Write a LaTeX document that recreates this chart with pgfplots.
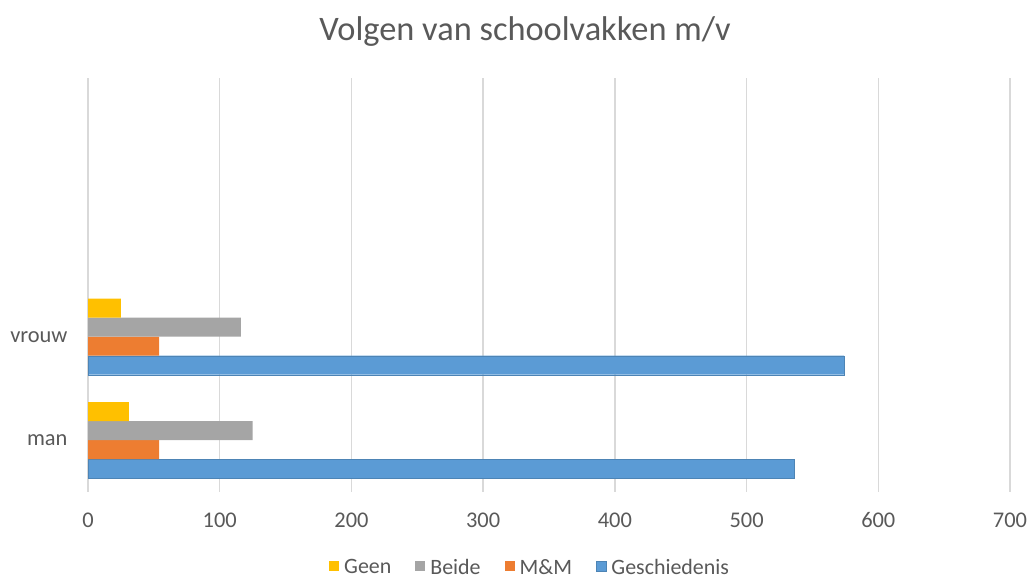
\documentclass[border=0pt]{standalone}
\usepackage{pgfplots}
\pgfplotsset{compat=1.18}
\usepackage{fontspec}
\setmainfont{Carlito}
\definecolor{cGeen}{HTML}{FFC000}
\definecolor{cBeide}{HTML}{A5A5A5}
\definecolor{cMM}{HTML}{ED7D31}
\definecolor{cGes}{HTML}{5B9BD5}
\definecolor{txt}{HTML}{595959}
\definecolor{gridc}{HTML}{D9D9D9}
\begin{document}
\begin{tikzpicture}[x=1bp,y=1bp]
\useasboundingbox (0,0) rectangle (1030,579);
\node[text=txt,font=\fontsize{34.5}{38}\selectfont,anchor=center] at (525,547) {Volgen van schoolvakken m/v};
\begin{axis}[
  at={(88bp,87bp)}, anchor=south west,
  scale only axis, width=922bp, height=414bp,
  xbar, bar width=19bp,
  xmin=0, xmax=700, ymin=-0.5, ymax=3.5,
  xtick={0,100,...,700},
  ytick={0,1}, yticklabels={man,vrouw},
  axis line style={draw=none},
  major tick length=0pt,
  xmajorgrids, grid style={gridc, line width=1.3bp},
  tick label style={text=txt, font=\fontsize{22.5}{26}\selectfont},
  /pgf/number format/assume math mode=true,
  xticklabel style={yshift=-17bp},
  yticklabel style={xshift=-17bp},
  legend columns=4,
  reverse legend,
  legend style={at={(0.4795,-0.182)}, anchor=center, draw=none, text=txt,
    font=\fontsize{22}{25}\selectfont, inner sep=0pt,
    /tikz/every even column/.append style={column sep=22bp}},
  legend image code/.code={\fill[#1] (0bp,-4bp) rectangle (10bp,6bp); \path (13bp,0bp);},
]
\addplot[fill=cGes, draw=cGes!85!black, bar shift=-28.5bp] coordinates {(536,0) (574,1)};
\addplot[fill=cMM, draw=none, bar shift=-9.5bp] coordinates {(54,0) (54,1)};
\addplot[fill=cBeide, draw=none, bar shift=9.5bp] coordinates {(125,0) (116,1)};
\addplot[fill=cGeen, draw=none, bar shift=28.5bp] coordinates {(31,0) (25,1)};
\legend{Geschiedenis,M\&M,Beide,Geen}
\end{axis}
\end{tikzpicture}
\end{document}
